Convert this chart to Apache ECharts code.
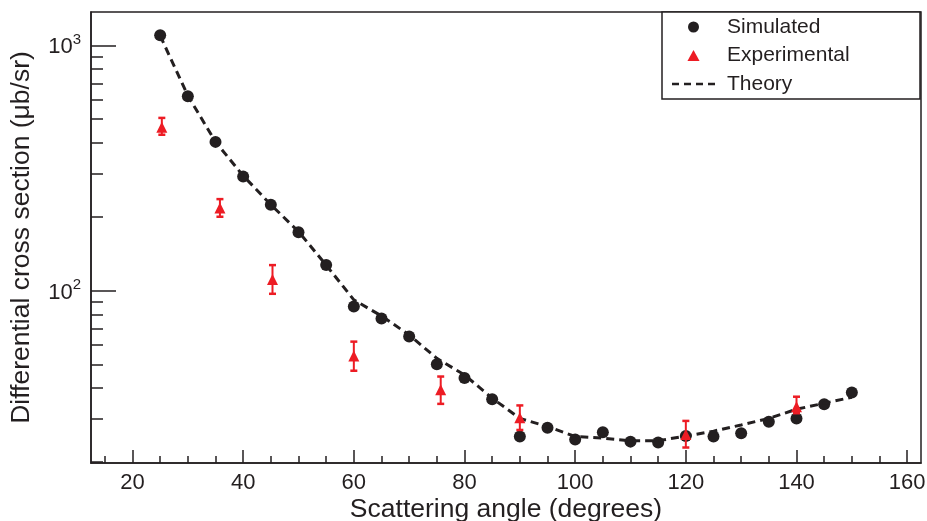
<!DOCTYPE html>
<html><head><meta charset="utf-8">
<script src="https://cdn.jsdelivr.net/npm/echarts@6/dist/echarts.min.js"></script>
<style>html,body{margin:0;padding:0;background:#fff}#c{width:927px;height:521px}</style>
</head><body><div id="c"></div>
<script>
const simAngles = [25,30,35,40,45,50,55,60,65,70,75,80,85,90,95,100,105,110,115,120,125,130,135,140,145,150];
const simValues = [1100,620,404,292,224,173,127,86,77,65,50,44,36,25.4,27.6,24.7,26.4,24.2,24.0,25.5,25.4,26.2,29.2,30.1,34.4,38.4];
const theoryValues = [1095,624,404,294,224,174,127,91.6,78.8,65.9,52.9,45.3,36.4,30.1,27.9,25.4,25.0,24.4,24.4,25.5,26.7,28.3,30.1,32.8,34.7,36.7];
const expAngles = [25.3,35.8,45.3,60,75.7,90,120,140];
const expValues = [463,217,111,54.1,39.4,30.3,25.9,33.6];
const expLow = [432,200,97,47.1,34.5,27.0,22.9,31.6];
const expHigh = [506,236,127,61.9,44.6,34.0,29.4,36.9];
const xMajorTicks = [20,40,60,80,100,120,140,160];
const xMinorTicks = [15,25,30,35,45,50,55,65,70,75,85,90,95,105,110,115,125,130,135,145,150,155];
const yMajorTicks = [100,1000];
const yMinorTicks = [20,30,40,50,60,70,80,90,200,300,400,500,600,700,800,900];
const legendNames = ['Simulated','Experimental','Theory'];

const FONT = '"Liberation Sans", Arial, Helvetica, sans-serif';
const INK = '#231f20';
const RED = '#ed1c24';
const X_MIN = 12.5, X_MAX = 162.5, Y_MIN = 19.8, Y_MAX = 1368;
const TRI_ICON = 'path://M0,10L5.5,0L11,10Z';
const DASH_ICON = 'path://M0,0h7v2.6h-7zM12,0h7v2.6h-7zM24,0h7v2.6h-7zM36,0h7v2.6h-7z';

const chart = echarts.init(document.getElementById('c'), null, {renderer: 'canvas'});
chart.setOption({
  animation: false,
  backgroundColor: '#fff',
  textStyle: {fontFamily: FONT, color: INK},
  grid: {left: 91, right: 6, top: 12, bottom: 58, outerBoundsMode: 'none', containLabel: false,
         show: true, borderColor: INK, borderWidth: 1.5, backgroundColor: 'transparent'},
  legend: {
    data: [
      {name: legendNames[0], icon: 'circle', itemStyle: {color: INK, opacity: 1}},
      {name: legendNames[1], icon: TRI_ICON, itemStyle: {color: RED, opacity: 1}},
      {name: legendNames[2], icon: DASH_ICON, itemStyle: {color: INK, opacity: 1}}
    ],
    symbolKeepAspect: true,
    orient: 'vertical', left: 662, top: 12,
    padding: [4.5, 10, 4.5, 10],
    itemWidth: 43, itemHeight: 11, itemGap: 7.5,
    borderColor: INK, borderWidth: 1.5, backgroundColor: '#fff',
    textStyle: {fontSize: 21, color: INK, fontFamily: FONT, width: 183, lineHeight: 21, padding: [0,0,0,7]},
    selectedMode: false
  },
  xAxis: [{
    type: 'value', min: X_MIN, max: X_MAX, position: 'bottom',
    axisLine: {lineStyle: {color: INK, width: 1.5}},
    axisTick: {inside: true, length: 13, customValues: xMajorTicks, lineStyle: {color: INK, width: 1.5}},
    axisLabel: {customValues: xMajorTicks, fontSize: 22, margin: 9, color: INK, fontFamily: FONT},
    splitLine: {show: false},
    name: 'Scattering angle (degrees)', nameLocation: 'middle', nameGap: 33, nameMoveOverlap: false,
    nameTextStyle: {fontSize: 26.5, color: INK, fontFamily: FONT}
  }, {
    type: 'value', min: X_MIN, max: X_MAX, position: 'bottom', gridIndex: 0,
    axisLine: {show: false},
    axisTick: {inside: true, length: 7, customValues: xMinorTicks, lineStyle: {color: INK, width: 1.5}},
    axisLabel: {show: false}, splitLine: {show: false}
  }],
  yAxis: [{
    type: 'log', logBase: 10, min: Y_MIN, max: Y_MAX, position: 'left',
    axisLine: {show: true, lineStyle: {color: INK, width: 1.5}},
    axisTick: {inside: true, length: 25, customValues: yMajorTicks, lineStyle: {color: INK, width: 1.5}},
    axisLabel: {
      customValues: yMajorTicks, margin: 10, color: INK, fontFamily: FONT,
      formatter: v => '{b|10}{s|' + Math.round(Math.log10(v)) + '}',
      rich: {b: {fontSize: 22, fontFamily: FONT, color: INK, padding: [4,0,0,0]}, s: {fontSize: 15, fontFamily: FONT, color: INK, verticalAlign: 'top', padding: [0,0,6,0]}}
    },
    splitLine: {show: false}, minorTick: {show: false},
    name: 'Differential cross section (\u03bcb/sr)', nameLocation: 'middle', nameGap: 56, nameRotate: 90, nameMoveOverlap: false,
    nameTextStyle: {fontSize: 26.5, color: INK, fontFamily: FONT}
  }, {
    type: 'log', logBase: 10, min: Y_MIN, max: Y_MAX, position: 'left', gridIndex: 0,
    axisLine: {show: false},
    axisTick: {inside: true, length: 12, customValues: yMinorTicks, lineStyle: {color: INK, width: 1.5}},
    axisLabel: {show: false}, splitLine: {show: false}
  }],
  series: [{
    name: 'Simulated', type: 'scatter', xAxisIndex: 0, yAxisIndex: 0,
    symbol: 'circle', symbolSize: 12, itemStyle: {color: INK, opacity: 1}, z: 2,
    data: simAngles.map((a, i) => [a, simValues[i]])
  }, {
    name: 'Theory', type: 'line', xAxisIndex: 0, yAxisIndex: 0,
    symbol: 'none', showSymbol: false, itemStyle: {color: INK},
    lineStyle: {color: INK, width: 3, type: [8, 5]}, z: 3,
    data: simAngles.map((a, i) => [a, theoryValues[i]])
  }, {
    name: 'ErrorBars', type: 'custom', xAxisIndex: 0, yAxisIndex: 0, z: 4,
    encode: {x: 0, y: [1, 2]},
    data: expAngles.map((a, i) => [a, expLow[i], expHigh[i]]),
    renderItem: (params, api) => {
      const x = api.value(0);
      const pLo = api.coord([x, api.value(1)]);
      const pHi = api.coord([x, api.value(2)]);
      const hw = 3.5;
      const style = {stroke: RED, lineWidth: 2};
      const cap = {stroke: RED, lineWidth: 2.5};
      return {type: 'group', children: [
        {type: 'line', shape: {x1: pLo[0], y1: pLo[1], x2: pHi[0], y2: pHi[1]}, style},
        {type: 'line', shape: {x1: pLo[0] - hw, y1: pLo[1], x2: pLo[0] + hw, y2: pLo[1]}, style: cap},
        {type: 'line', shape: {x1: pHi[0] - hw, y1: pHi[1], x2: pHi[0] + hw, y2: pHi[1]}, style: cap}
      ]};
    }
  }, {
    name: 'Experimental', type: 'scatter', xAxisIndex: 0, yAxisIndex: 0,
    symbol: 'triangle', symbolSize: 11, itemStyle: {color: RED, opacity: 1}, z: 5,
    data: expAngles.map((a, i) => [a, expValues[i]])
  }]
});
</script>
</body></html>
